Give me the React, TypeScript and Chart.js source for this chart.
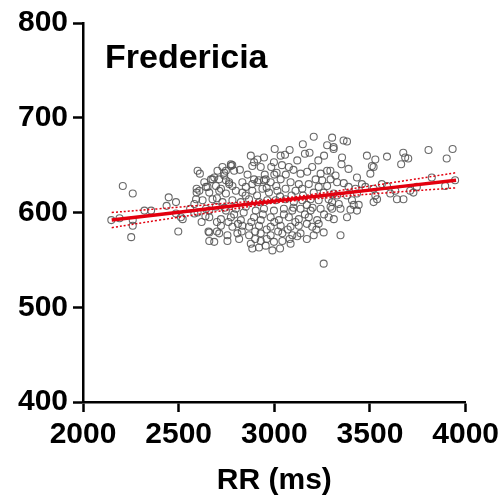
import React, { useEffect, useRef } from "react";
import { Chart, registerables } from "chart.js";

Chart.register(...registerables);

const chartTitle = "Fredericia";
const xAxisTitle = "RR (ms)";
const xTickValues = [2000, 2500, 3000, 3500, 4000];
const yTickValues = [400, 500, 600, 700, 800];

// [RR (ms), QTcF (ms)]
const scatterPoints: [number, number][] = [
  [2148, 592], [2191, 594], [2208, 628], [2260, 620], [2260, 592], [2260, 586], [2252, 574],
  [2321, 602], [2356, 602], [2437, 607], [2448, 616], [2486, 611], [2486, 599], [2512, 595],
  [2521, 593], [2498, 580], [2599, 644], [2611, 641], [2634, 632], [2651, 627], [2594, 625],
  [2594, 621], [2591, 614], [2582, 609], [2599, 600], [2582, 599], [2660, 602], [2656, 580],
  [2686, 569], [2686, 637], [2660, 570],
  [2669, 635], [2703, 644], [2729, 648], [2738, 642], [2773, 651], [2790, 644], [2747, 634],
  [2764, 630], [2877, 660], [2894, 653], [2912, 656], [2929, 648], [2946, 658], [2885, 630],
  [2912, 632], [2946, 634], [2660, 621], [2721, 625],
  [3206, 680], [3302, 679], [3149, 672], [3160, 662], [3184, 663], [3276, 671], [3310, 669],
  [3002, 667], [3033, 660], [3056, 661], [3080, 666], [2885, 649], [2998, 653], [2984, 648],
  [3012, 642], [3076, 648], [3137, 641], [3172, 643], [3198, 648], [3242, 641], [3276, 644],
  [3216, 635], [3250, 634], [3294, 635], [3320, 639], [2773, 649], [2747, 644], [2738, 639],
  [2712, 635], [2643, 627], [2677, 635], [2695, 628], [2764, 632], [2781, 628], [2833, 632],
  [2851, 627], [2894, 635], [2920, 634], [2955, 635], [2981, 632], [3033, 635], [3085, 632],
  [3128, 630], [3180, 630], [3232, 627], [3276, 628], [2608, 623], [2712, 623], [2747, 620],
  [2799, 623], [2833, 621], [2885, 623], [2938, 625], [2972, 621], [3016, 623], [3059, 625],
  [3111, 623], [3146, 625], [3206, 621], [3258, 621], [3310, 620],
  [2625, 613], [2677, 614], [2729, 611], [2781, 613], [2825, 611], [2868, 614], [2920, 611],
  [2963, 613], [3007, 613], [3059, 614], [3102, 611], [3146, 613], [3190, 614], [3232, 613],
  [3284, 614], [2643, 604], [2695, 606], [2747, 602], [2799, 604], [2851, 606], [2903, 602],
  [2946, 604], [2998, 602], [3050, 604], [3094, 602], [3137, 604], [3190, 602], [3242, 604],
  [3294, 606],
  [2660, 595], [2721, 593], [2773, 595], [2825, 592], [2894, 595], [2929, 592], [2981, 595],
  [3024, 592], [3076, 595], [3128, 593], [3180, 595], [3224, 592], [3284, 595], [2721, 586],
  [2781, 585], [2833, 586], [2868, 585], [2920, 586], [2981, 585], [3033, 586], [3085, 585],
  [3128, 586], [3198, 585], [3232, 588], [2660, 579], [2712, 578], [2755, 576], [2807, 578],
  [2868, 576], [2929, 578], [2981, 576], [3042, 578], [3094, 576], [3137, 578], [3206, 576],
  [3258, 579], [2755, 570], [2816, 572], [2877, 567], [2929, 570], [2955, 565], [2998, 569],
  [3042, 570], [3085, 567], [2885, 562], [2920, 563], [2990, 560], [3258, 546],
  [3362, 676], [3380, 675], [3310, 667], [3354, 658], [3351, 651], [3484, 660], [3528, 656],
  [3510, 649], [3519, 648], [3589, 659], [3674, 663], [3684, 658], [3700, 657], [3663, 651],
  [3806, 666], [3932, 667], [3901, 657], [3388, 646], [3293, 644], [3502, 641], [3432, 637],
  [3328, 632], [3363, 631], [3823, 637], [3945, 634], [3893, 628], [3562, 630], [3458, 630],
  [3388, 627], [3424, 625], [3476, 627], [3519, 625], [3589, 628], [3632, 623], [3710, 623],
  [3727, 621], [3745, 627], [3328, 618], [3380, 618], [3432, 620], [3528, 618], [3537, 614],
  [3606, 620], [3641, 614], [3675, 614], [3302, 611], [3337, 609], [3406, 613], [3415, 608],
  [3441, 608], [3519, 611], [3302, 604], [3346, 604], [3398, 603], [3432, 602], [3311, 593],
  [3380, 595], [3346, 576],
  [2860, 640], [2950, 640], [3010, 628], [3060, 640], [3100, 645], [2700, 615], [2740, 605],
  [2790, 598], [2840, 600], [2880, 590], [2940, 598], [3000, 590], [3050, 598], [3110, 590],
  [3160, 598], [3200, 605], [2760, 590], [2810, 588], [2900, 580], [2960, 582], [3020, 580],
  [3070, 582], [3120, 575], [3170, 588], [2850, 618], [2910, 618], [2960, 626], [3030, 617],
  [3090, 618], [3150, 618], [3000, 640], [2700, 590], [2640, 596], [2620, 590], [2560, 604],
  [2700, 580], [2780, 650], [2820, 645], [3040, 650], [3120, 655], [3230, 655], [3260, 660],
  [3100, 605], [3170, 608], [3260, 598], [3220, 582], [3170, 572], [3080, 572], [2830, 580],
  [2900, 572], [3030, 562], [2960, 572],
];

const fitX = [2150, 2400, 2700, 3000, 3300, 3600, 3950];
const fitY = [592, 598, 605, 612, 619, 626, 634];
const ciUpper = [600, 604, 609, 614, 622, 631, 642];
const ciLower = [584, 592, 601, 610, 616, 621, 626];

const FONT = "'Liberation Sans', Arial, Helvetica, sans-serif";

const insideTitle = {
  id: "insideTitle",
  afterDraw(chart: any) {
    const { ctx, chartArea } = chart;
    ctx.save();
    ctx.font = `bold 34px ${FONT}`;
    ctx.fillStyle = "#000";
    ctx.textBaseline = "alphabetic";
    ctx.textAlign = "left";
    ctx.fillText(chartTitle, chartArea.left + 22, chartArea.top + 45);
    ctx.restore();
  },
};

export default function App() {
  const ref = useRef<HTMLCanvasElement | null>(null);

  useEffect(() => {
    document.body.style.margin = "0";
    const canvas = ref.current;
    if (!canvas) return;
    const red = "#e3000f";
    const chart = new Chart(canvas, {
      type: "scatter",
      data: {
        datasets: [
          {
            type: "line",
            data: fitX.map((x, i) => ({ x, y: fitY[i] })),
            borderColor: red,
            borderWidth: 3.5,
            pointRadius: 0,
            fill: false,
            tension: 0,
            order: 0,
          } as any,
          {
            type: "line",
            data: fitX.map((x, i) => ({ x, y: ciUpper[i] })),
            borderColor: red,
            borderWidth: 1.5,
            borderDash: [2, 2],
            pointRadius: 0,
            fill: false,
            tension: 0.4,
            order: 1,
          } as any,
          {
            type: "line",
            data: fitX.map((x, i) => ({ x, y: ciLower[i] })),
            borderColor: red,
            borderWidth: 1.5,
            borderDash: [2, 2],
            pointRadius: 0,
            fill: false,
            tension: 0.4,
            order: 1,
          } as any,
          {
            type: "scatter",
            data: scatterPoints.map(([x, y]) => ({ x, y })),
            pointRadius: 3.5,
            pointBorderWidth: 1.1,
            pointBorderColor: "rgba(80,80,80,0.85)",
            pointBackgroundColor: "rgba(255,255,255,0)",
            order: 2,
          },
        ],
      },
      options: {
        responsive: false,
        animation: false,
        layout: { padding: { top: 22, right: 38, left: 0, bottom: 0 } },
        plugins: {
          legend: { display: false },
          tooltip: { enabled: false },
          title: { display: false },
        },
        scales: {
          x: {
            type: "linear",
            min: 2000,
            max: 4000,
            afterBuildTicks: (s: any) => {
              s.ticks = xTickValues.map((v) => ({ value: v }));
            },
            afterFit: (s: any) => {
              s.height = 97;
            },
            grid: {
              display: true,
              drawOnChartArea: false,
              drawTicks: true,
              tickLength: 10,
              tickWidth: 2.5,
              tickColor: "#000",
            },
            border: { display: true, color: "#000", width: 2.5 },
            ticks: {
              color: "#000",
              padding: 5,
              maxRotation: 0,
              autoSkip: false,
              callback: (v: any) => String(v),
              font: { family: FONT, size: 30, weight: "bold" },
            },
            title: {
              display: true,
              text: xAxisTitle,
              color: "#000",
              padding: { top: 0, bottom: 0 },
              font: { family: FONT, size: 30, weight: "bold" },
            },
          },
          y: {
            type: "linear",
            min: 400,
            max: 800,
            afterBuildTicks: (s: any) => {
              s.ticks = yTickValues.map((v) => ({ value: v }));
            },
            afterFit: (s: any) => {
              s.width = 83;
            },
            grid: {
              display: true,
              drawOnChartArea: false,
              drawTicks: true,
              tickLength: 10,
              tickWidth: 2.5,
              tickColor: "#000",
            },
            border: { display: true, color: "#000", width: 2.5 },
            ticks: {
              color: "#000",
              padding: 5,
              callback: (v: any) => String(v),
              font: { family: FONT, size: 30, weight: "bold" },
            },
          },
        },
      } as any,
      plugins: [insideTitle],
    });
    return () => chart.destroy();
  }, []);

  return (
    <div style={{ position: "absolute", left: 0, top: 0, width: 504, height: 499, background: "#fff" }}>
      <canvas ref={ref} width={504} height={499} style={{ width: 504, height: 499, display: "block" }} />
    </div>
  );
}
